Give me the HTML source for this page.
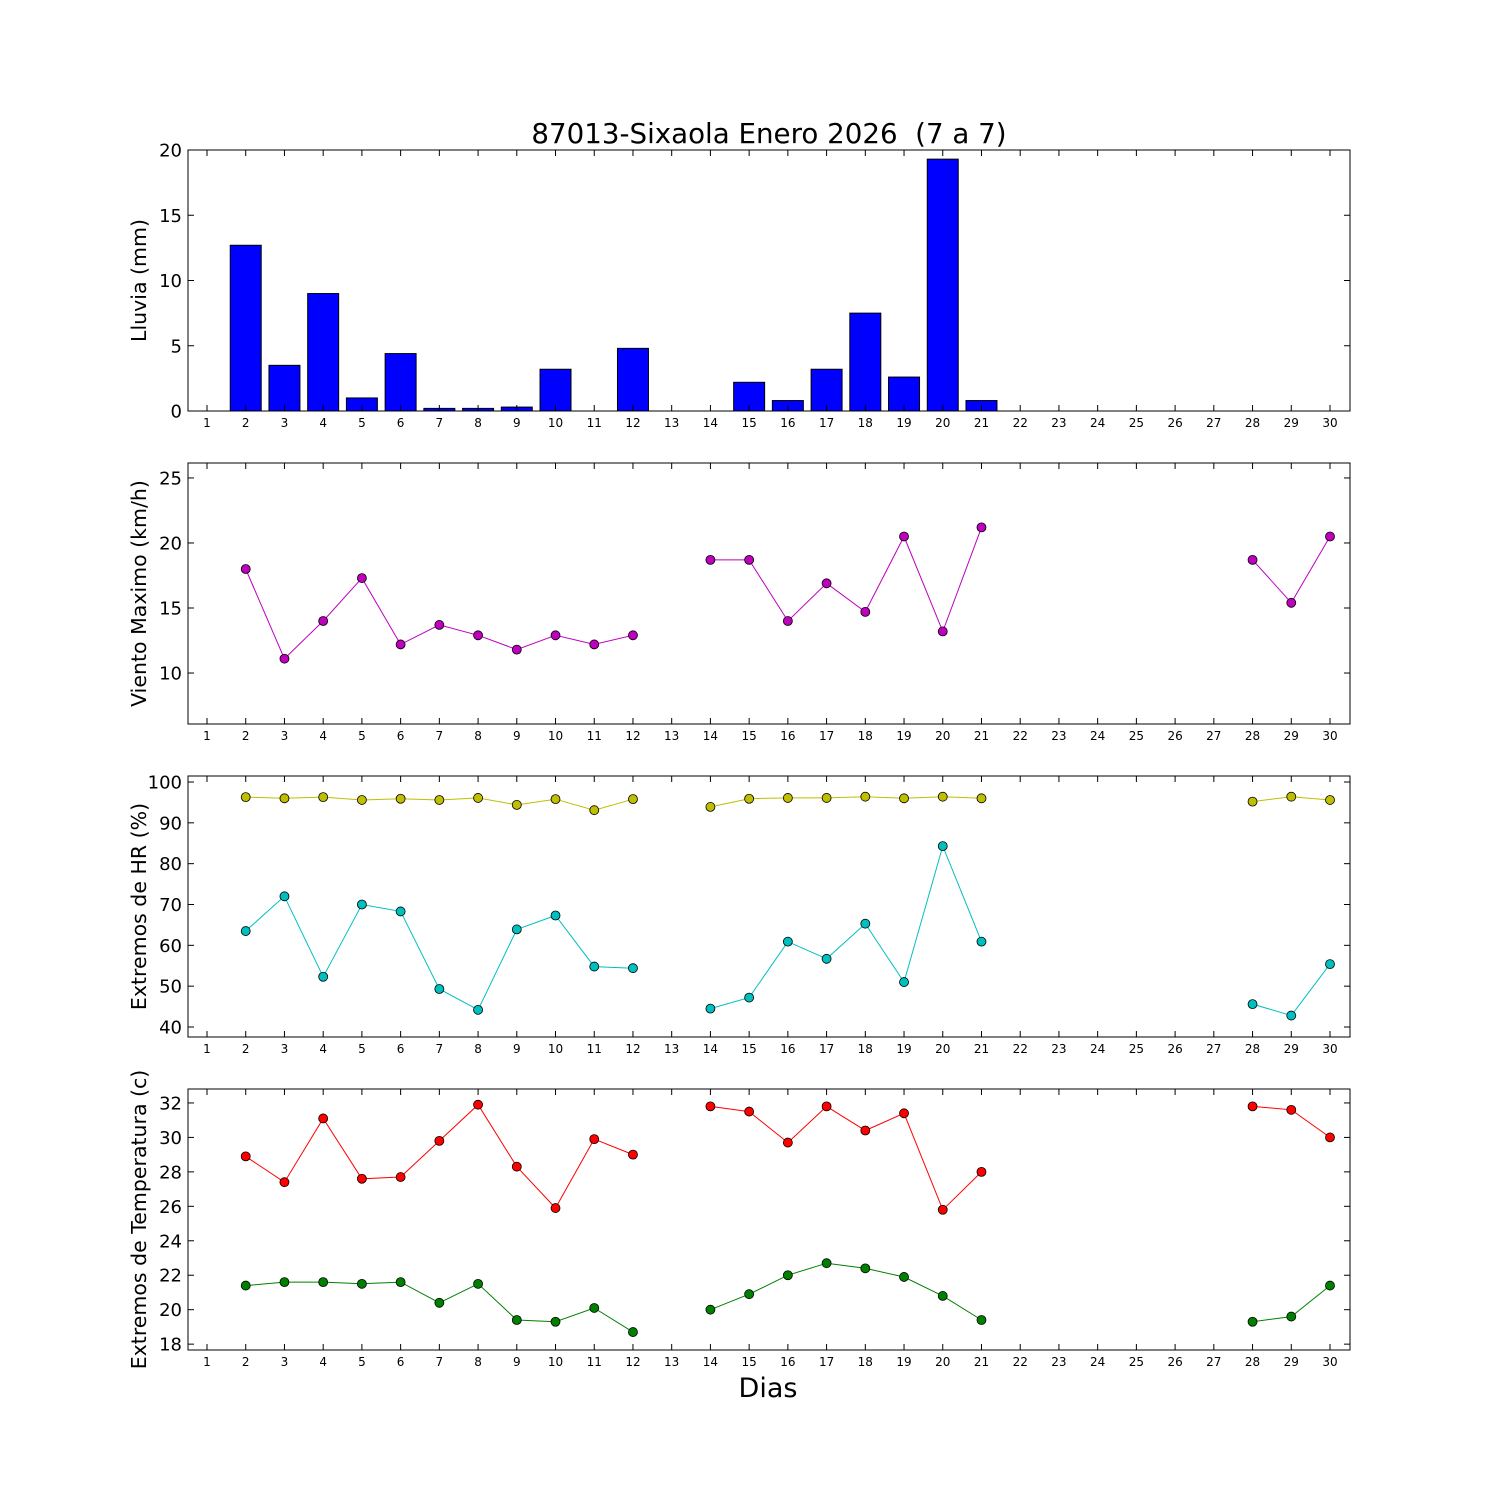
<!DOCTYPE html>
<html><head><meta charset="utf-8"><style>
html,body{margin:0;padding:0;background:#fff;width:1500px;height:1500px;overflow:hidden}
svg text{font-family:"DejaVu Sans","Liberation Sans",sans-serif}
</style></head><body>
<svg id="s" width="1500" height="1500" xmlns="http://www.w3.org/2000/svg"></svg>
<script>
const s=document.getElementById('s');let h='';
const L=188,R=1350;const X=d=>207+(d-1)*(1330-207)/29;
const P=[{t:150,b:411,lo:0,hi:20,ticks:[0,5,10,15,20],lab:'Lluvia (mm)'},
{t:463,b:724,lo:6.08,hi:26.15,ticks:[10,15,20,25],lab:'Viento Maximo (km/h)'},
{t:776,b:1037,lo:37.55,hi:101.47,ticks:[40,50,60,70,80,90,100],lab:'Extremos de HR (%)'},
{t:1089,b:1350,lo:17.66,hi:32.81,ticks:[18,20,22,24,26,28,30,32],lab:'Extremos de Temperatura (c)'}];
const Y=(p,v)=>p.b-(v-p.lo)/(p.hi-p.lo)*(p.b-p.t);
const rain=[0,12.7,3.5,9,1,4.4,0.2,0.2,0.3,3.2,0,4.8,0,0,2.2,0.8,3.2,7.5,2.6,19.3,0.8,0,0,0,0,0,0,0,0,0];
const wind={2:18,3:11.1,4:14,5:17.3,6:12.2,7:13.7,8:12.9,9:11.8,10:12.9,11:12.2,12:12.9,14:18.7,15:18.7,16:14,17:16.9,18:14.7,19:20.5,20:13.2,21:21.2,28:18.7,29:15.4,30:20.5};
function mk(a){const o={};const ds=[2,3,4,5,6,7,8,9,10,11,12,14,15,16,17,18,19,20,21,28,29,30];ds.forEach((d,i)=>o[d]=a[i]);return o}
const hmax=mk([96.3,96,96.3,95.6,95.9,95.6,96.1,94.4,95.8,93.1,95.8,93.9,95.9,96.1,96.1,96.4,96,96.4,96,95.2,96.4,95.6]);
const hmin=mk([63.5,72,52.3,70,68.3,49.3,44.2,63.9,67.3,54.8,54.4,44.5,47.2,60.9,56.7,65.3,51,84.3,60.9,45.6,42.8,55.4]);
const tmax=mk([28.9,27.4,31.1,27.6,27.7,29.8,31.9,28.3,25.9,29.9,29,31.8,31.5,29.7,31.8,30.4,31.4,25.8,28,31.8,31.6,30]);
const tmin=mk([21.4,21.6,21.6,21.5,21.6,20.4,21.5,19.4,19.3,20.1,18.7,20,20.9,22,22.7,22.4,21.9,20.8,19.4,19.3,19.6,21.4]);
function series(p,o,col){let groups=[],cur=[];for(let d=1;d<=30;d++){if(o[d]!==undefined)cur.push(d);else{if(cur.length)groups.push(cur);cur=[]}}if(cur.length)groups.push(cur);
groups.forEach(g=>{h+=`<polyline fill="none" stroke="${col}" stroke-width="1" points="${g.map(d=>X(d).toFixed(1)+','+Y(p,o[d]).toFixed(1)).join(' ')}"/>`});
for(const d in o)h+=`<circle cx="${X(+d)}" cy="${Y(p,o[d])}" r="4.5" fill="${col}" stroke="#000" stroke-width="0.8"/>`;}
const p0=P[0],bw=0.8*(1330-207)/29;
rain.forEach((v,i)=>{const d=i+1,y=Y(p0,v);h+=`<rect x="${X(d)-bw/2}" y="${y}" width="${bw}" height="${p0.b-y}" fill="#0000ff" stroke="#000" stroke-width="1"/>`});
series(P[1],wind,'#bf00bf');
series(P[2],hmax,'#bfbf00');series(P[2],hmin,'#00bfbf');
series(P[3],tmax,'#ff0000');series(P[3],tmin,'#008000');
P.forEach(p=>{
h+=`<rect x="${L}" y="${p.t}" width="${R-L}" height="${p.b-p.t}" fill="none" stroke="#000" stroke-width="1"/>`;
for(let d=1;d<=30;d++){const x=X(d);h+=`<line x1="${x}" y1="${p.b}" x2="${x}" y2="${p.b-6}" stroke="#000"/><line x1="${x}" y1="${p.t}" x2="${x}" y2="${p.t+6}" stroke="#000"/><text x="${x}" y="${p.b+16}" font-size="12" text-anchor="middle">${d}</text>`}
p.ticks.forEach(v=>{const y=Y(p,v);h+=`<line x1="${L}" y1="${y}" x2="${L+6}" y2="${y}" stroke="#000"/><line x1="${R}" y1="${y}" x2="${R-6}" y2="${y}" stroke="#000"/><text x="${L-6}" y="${y+6.5}" font-size="18" text-anchor="end">${v}</text>`});
const cy=(p.t+p.b)/2;h+=`<text transform="translate(146,${cy}) rotate(-90)" font-size="20.5" text-anchor="middle">${p.lab}</text>`;
});
h+=`<text x="769" y="143" font-size="27.7" text-anchor="middle" xml:space="preserve" style="white-space:pre">87013-Sixaola Enero 2026  (7 a 7)</text>`;
h+=`<text x="768" y="1397" font-size="27" text-anchor="middle">Dias</text>`;
s.innerHTML=h;
</script>
</body></html>
